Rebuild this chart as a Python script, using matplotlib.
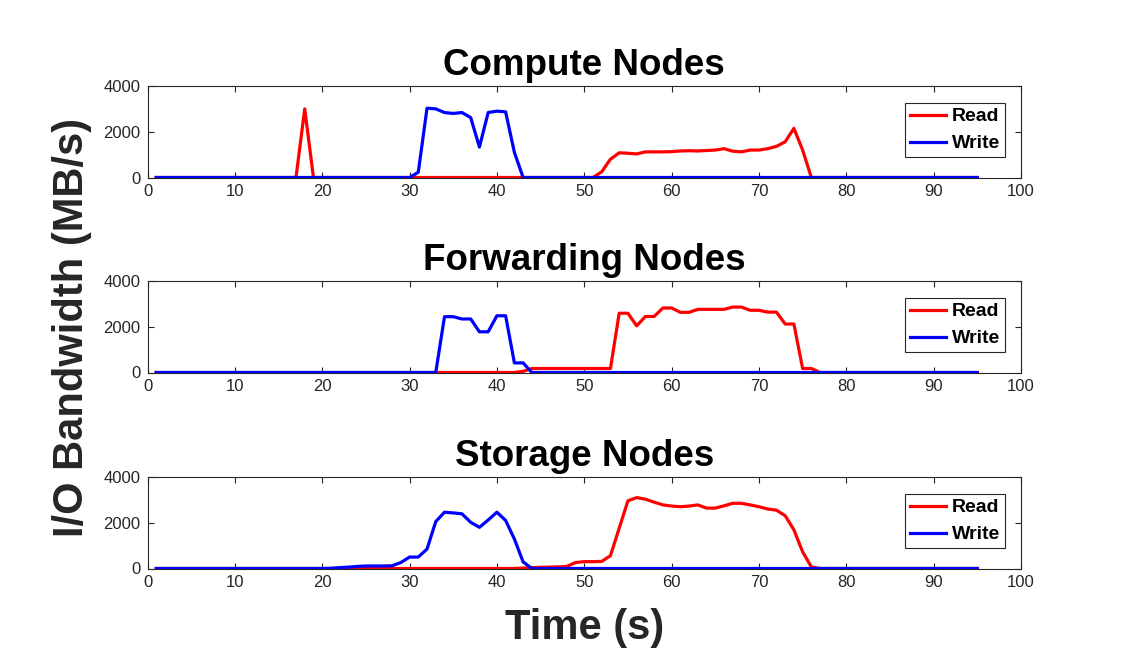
import numpy as np
import matplotlib
matplotlib.use('Agg')
import matplotlib.pyplot as plt

plt.rcParams['font.family'] = ['Liberation Sans', 'DejaVu Sans']

# time axis (seconds)
t = list(range(1, 96))

# Compute nodes (MB/s)
compute_read = ([0] * 17 + [3000] + [0] * 32 + [0, 250, 800, 1080, 1060, 1030, 1120, 1120, 1120, 1130,
                1160, 1170, 1160, 1180, 1200, 1260, 1150, 1120, 1200, 1200,
                1260, 1360, 1560, 2150, 1200] + [0] * 20)
compute_write = ([0] * 30 + [230, 3030, 3000, 2840, 2800, 2840, 2620, 1330, 2840, 2900,
                 2870, 1100] + [0] * 53)

# Forwarding nodes (MB/s)
fwd_read = ([0] * 42 + [50, 175, 175, 175, 175, 175, 175, 175, 175, 175,
            175, 2590, 2590, 2040, 2450, 2450, 2820, 2820, 2630, 2630,
            2760, 2760, 2760, 2760, 2860, 2860, 2720, 2720, 2640, 2640,
            2120, 2120, 175, 175] + [0] * 19)
fwd_write = ([0] * 33 + [2440, 2440, 2340, 2340, 1780, 1780, 2480, 2480, 420, 420] + [0] * 52)

# Storage nodes (MB/s)
stor_read = ([0] * 42 + [20, 40, 50, 60, 70, 90, 260, 300, 300, 310,
             560, 1760, 2960, 3100, 3030, 2900, 2780, 2730, 2700, 2730,
             2780, 2640, 2640, 2740, 2850, 2850, 2780, 2700, 2600, 2550,
             2310, 1690, 730, 70] + [0] * 19)
stor_write = ([0] * 20 + [10, 40, 60, 90, 110, 110, 110, 120, 260, 500,
              500, 850, 2050, 2460, 2430, 2390, 2020, 1800, 2120, 2460,
              2100, 1290, 290] + [0] * 52)

titles = ['Compute Nodes', 'Forwarding Nodes', 'Storage Nodes']
panels = [(compute_read, compute_write), (fwd_read, fwd_write), (stor_read, stor_write)]

W, H = 1130, 653
left, right = 147.5 / W, 1021 / W
tops = [86, 281, 477]
height = 91.5

dark = '#262626'
fig = plt.figure(figsize=(W / 100, H / 100), dpi=100)

axes = []
for i, (title, (rd, wr)) in enumerate(zip(titles, panels)):
    top = tops[i]
    ax = fig.add_axes([left, 1 - (top + height) / H, right - left, height / H])
    ax.plot(t, rd, color='red', linewidth=2.3, label='Read')
    ax.plot(t, wr, color='blue', linewidth=2.3, label='Write')
    ax.set_xlim(0, 100)
    ax.set_ylim(0, 4000)
    ax.set_xticks(np.arange(0, 101, 10))
    ax.set_yticks([0, 2000, 4000])
    ax.tick_params(direction='in', length=4, width=0.8, colors=dark,
                   labelsize=12, top=True, right=True, pad=5)
    for sp in ax.spines.values():
        sp.set_color(dark)
        sp.set_linewidth(0.8)
    ax.set_title(title, fontsize=26.5, fontweight='bold', pad=8)
    leg = ax.legend(loc='upper right', bbox_to_anchor=(1 - 16 / 874, 1 - 17 / 91.5),
                    borderaxespad=0, fancybox=False, framealpha=1, edgecolor=dark,
                    prop={'weight': 'bold', 'size': 14}, handlelength=1.85,
                    handletextpad=0.3, labelspacing=0.48, borderpad=0.25)
    leg.get_frame().set_linewidth(0.8)
    axes.append(ax)

fig.text(72 / W, 1 - 327 / H, 'I/O Bandwidth (MB/s)', rotation=90, ha='center', va='center',
         fontsize=30, fontweight='bold', color=dark)
axes[2].set_xlabel('Time (s)', fontsize=30, fontweight='bold', color=dark, labelpad=13)

fig.savefig('out.png', dpi=100)
